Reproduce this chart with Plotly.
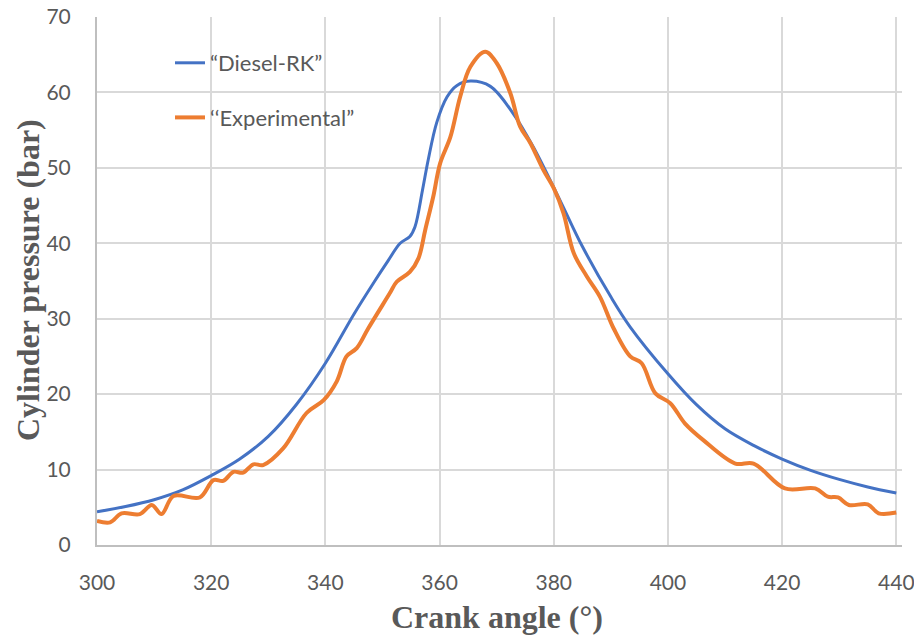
import plotly.graph_objects as go

# Diesel-RK simulation (crank angle in degrees, pressure in bar)
rk_angle = [300, 305, 310, 315, 320, 325, 330, 335, 340, 345, 348.4, 351, 353.1, 354.8,
            355.7, 357, 358, 359.5, 361.3, 363, 365.4, 368.9, 372.9, 376.4, 381.1, 385, 390,
            393.4, 400, 405, 410, 415, 420, 425, 430, 435, 440]
rk_pressure = [4.4, 5.1, 6.0, 7.3, 9.2, 11.4, 14.4, 18.7, 24.1, 30.6, 34.7, 37.7, 40.0, 40.9,
               42.2, 47.0, 51.0, 56.0, 59.4, 60.9, 61.5, 60.8, 57.2, 52.8, 45.7, 39.6, 32.9,
               28.9, 22.7, 18.6, 15.4, 13.2, 11.4, 9.9, 8.7, 7.7, 6.9]

# Experimental measurement
exp_angle = [300, 302.3, 304.3, 307.5, 309.6, 311.3, 313.4, 318.0, 320.4, 322.1, 323.9, 325.6,
             327.4, 329.1, 332.6, 336.7, 339.7, 342.0, 343.7, 345.5, 347.5, 351.3, 352.5, 354.8,
             356.3, 357.5, 358.9, 360.1, 361.9, 363.6, 365.4, 368.0, 370.0, 372.4, 374.1, 375.9,
             378.2, 380.0, 381.7, 383.5, 385.8, 388.1, 390.5, 393.4, 395.4, 397.8, 400.4, 403.0,
             406.2, 411.8, 415.0, 420.5, 425.8, 428.0, 429.8, 431.7, 435.0, 436.9, 440.0]
exp_pressure = [3.2, 3.0, 4.2, 4.1, 5.3, 4.1, 6.5, 6.3, 8.6, 8.5, 9.7, 9.6,
                10.7, 10.6, 12.8, 17.5, 19.2, 21.7, 25.0, 26.1, 28.7, 33.4, 34.9, 36.2,
                38.0, 41.8, 46.2, 50.6, 54.1, 59.4, 63.4, 65.4, 63.9, 59.9, 55.5, 53.3,
                49.7, 47.3, 44.0, 38.7, 35.6, 32.9, 28.7, 25.0, 24.1, 20.1, 18.8, 16.1,
                13.9, 10.8, 10.8, 7.5, 7.5, 6.4, 6.3, 5.3, 5.4, 4.2, 4.3]

x_ticks = [300, 320, 340, 360, 380, 400, 420, 440]
y_ticks = [0, 10, 20, 30, 40, 50, 60, 70]

GRAY = "#595959"

fig = go.Figure()
fig.add_trace(go.Scatter(x=rk_angle, y=rk_pressure, mode="lines", name="“Diesel-RK”",
                         legendgroup="a",
                         line=dict(color="#4472C4", width=3, shape="spline", smoothing=1.0)))
fig.add_trace(go.Scatter(x=exp_angle, y=exp_pressure, mode="lines", name="‘‘Experimental”",
                         legendgroup="b",
                         line=dict(color="#ED7D31", width=4, shape="spline", smoothing=1.0)))

PW = 805  # plot width in px (range 300..441)

# white panel behind the legend (covers gridlines, under traces)
fig.add_shape(type="rect", xref="paper", yref="paper",
              x0=(122 - 97) / PW, x1=(375 - 97) / PW,
              y0=(545 - 145) / 528, y1=(545 - 38) / 528,
              fillcolor="white", line=dict(width=0), layer="between")

fig.update_layout(
    width=914, height=637,
    margin=dict(l=97, r=12, t=17, b=92, autoexpand=False),
    paper_bgcolor="white", plot_bgcolor="white",
    font=dict(family="Lato, Carlito, sans-serif", size=21, color=GRAY),
    showlegend=True,
    legend=dict(x=(170 - 97) / PW, y=(545 - 42) / 528, xanchor="left", yanchor="top",
                bgcolor="rgba(0,0,0,0)", font=dict(size=22, color=GRAY),
                tracegroupgap=23, traceorder="grouped"),
    xaxis=dict(range=[300, 441], tickvals=x_ticks, showgrid=True, gridcolor="#d9d9d9",
               gridwidth=1.5, showline=True, linecolor="#bfbfbf", linewidth=2,
               ticks="", zeroline=False, ticklabelstandoff=18, ticklabeloverflow="allow",
               automargin=False),
    yaxis=dict(range=[0, 70], tickvals=y_ticks, showgrid=True, gridcolor="#d9d9d9",
               gridwidth=1.5, showline=True, linecolor="#bfbfbf", linewidth=2,
               ticks="", zeroline=False, ticklabelstandoff=20, ticklabeloverflow="allow",
               automargin=False),
    annotations=[
        dict(text="<b>Crank angle (°)</b>", xref="paper", yref="paper",
             x=(497 - 97) / PW, y=(545 - 617) / 528, xanchor="center", yanchor="middle",
             showarrow=False, font=dict(family="Liberation Serif, Times New Roman, serif",
                                        size=32, color=GRAY)),
        dict(text="<b>Cylinder pressure (bar)</b>", xref="paper", yref="paper",
             x=(28 - 97) / PW, y=(545 - 280) / 528, xanchor="center", yanchor="middle",
             textangle=-90, showarrow=False,
             font=dict(family="Liberation Serif, Times New Roman, serif", size=32, color=GRAY)),
    ],
)

fig.write_html("out.html")
